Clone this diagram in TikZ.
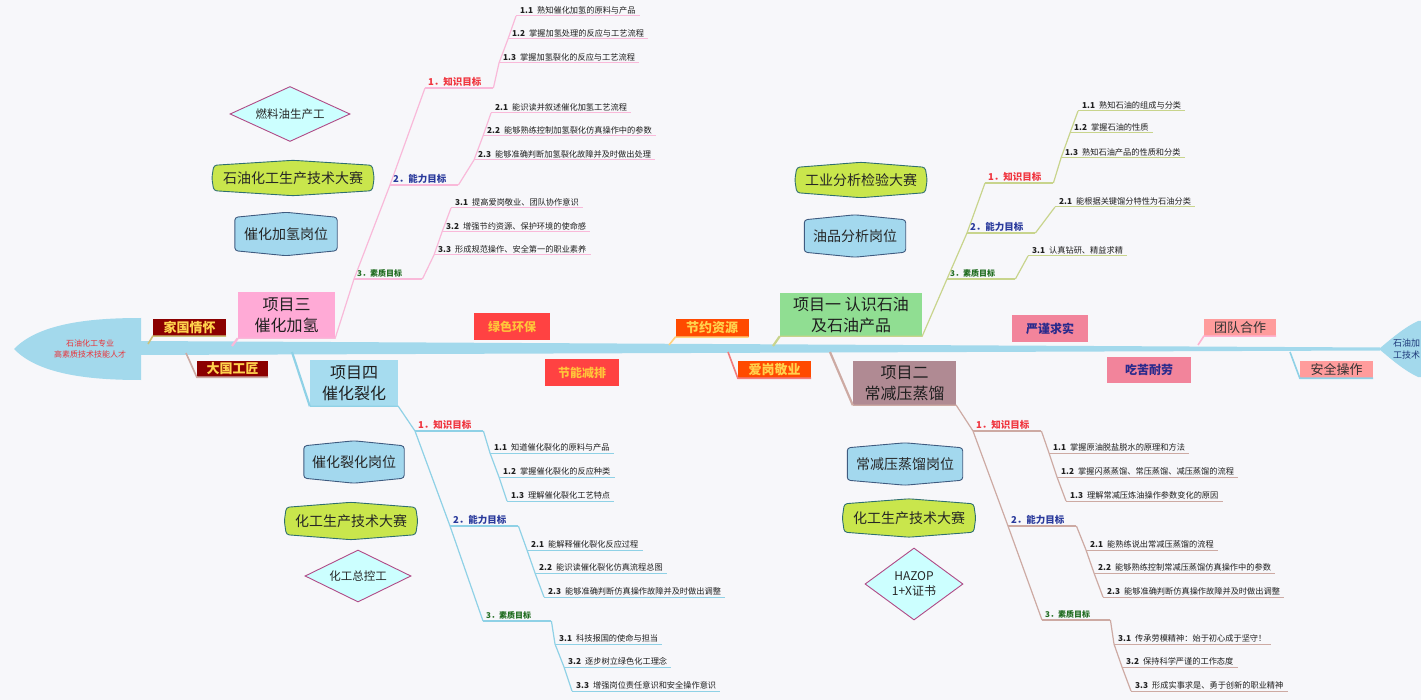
\documentclass[tikz,border=0pt]{standalone}
\usepackage{fontspec}
\setmainfont{Noto Sans CJK SC}
\usepackage{tikz}
\usetikzlibrary{shapes.geometric, backgrounds}
\definecolor{bgc}{HTML}{F7F7FA}
\definecolor{spinec}{HTML}{A3D9EC}
\definecolor{pinkln}{HTML}{F9B9D9}
\definecolor{pinkbox}{HTML}{FFAAD6}
\definecolor{blueln}{HTML}{8FD1E6}
\definecolor{bluebox}{HTML}{A6DCEF}
\definecolor{oliveln}{HTML}{C8D48C}
\definecolor{greenbox}{HTML}{90DE92}
\definecolor{brownln}{HTML}{CDAAA3}
\definecolor{mauvebox}{HTML}{B08A93}
\definecolor{goalred}{HTML}{F0353F}
\definecolor{goalblue}{HTML}{2A3A9C}
\definecolor{goalgreen}{HTML}{1E6B1E}
\definecolor{darkred}{HTML}{8B0000}
\definecolor{goldtxt}{HTML}{FFD24D}
\definecolor{tagred}{HTML}{FF4242}
\definecolor{tagorange}{HTML}{FF4A00}
\definecolor{tagamber}{HTML}{FFC53A}
\definecolor{tagpink}{HTML}{F2849B}
\definecolor{tagnavy}{HTML}{2A2A8C}
\definecolor{tagsalmon}{HTML}{FF9C9C}
\definecolor{olivetag}{HTML}{CDC27A}
\definecolor{yellowtag}{HTML}{FFD27E}
\definecolor{redtag}{HTML}{F27C7C}
\definecolor{pinktag}{HTML}{FFB3D1}
\definecolor{cyanfill}{HTML}{CCFFFF}
\definecolor{diaedge}{HTML}{B04A86}
\definecolor{limefill}{HTML}{C9E64C}
\definecolor{limeedge}{HTML}{2F6F70}
\definecolor{postfill}{HTML}{A3D8EE}
\definecolor{postedge}{HTML}{3F5B80}
\definecolor{headred}{HTML}{E8333A}
\definecolor{headblue}{HTML}{1E3A7A}
\tikzset{
    projbox/.style={align=center, inner sep=0pt, text=black!88, font=\fontsize{16}{21}\selectfont},
    tagbox/.style={inner sep=0pt, minimum width=73pt, minimum height=17pt, font=\bfseries\fontsize{13}{14}\selectfont},
    goallabel/.style={anchor=south west, inner xsep=3pt, inner ysep=1.5pt, text width=62pt,
        font=\bfseries\fontsize{9.5}{11}\selectfont,
        append after command={(\tikzlastnode.south west) edge[draw=#1, line width=1.2pt] (\tikzlastnode.south east)}},
    subitem/.style={anchor=south west, inner xsep=4pt, inner ysep=1.5pt, text=black!88,
        font=\fontsize{8.2}{10}\selectfont,
        append after command={(\tikzlastnode.south west) edge[draw=#1, line width=1pt] (\tikzlastnode.south east)}},
    postnode/.style={inner sep=0pt, minimum height=42pt, text=black!85, font=\fontsize{14}{16}\selectfont},
    contest/.style={inner sep=0pt, minimum height=36pt, text=black!85, font=\fontsize{14}{16}\selectfont},
    jobdia/.style={diamond, draw=diaedge, fill=cyanfill, line width=0.9pt, inner sep=0pt, align=center,
        text=black!85, font=\fontsize{11.5}{14}\selectfont},
    trunk/.style={line width=1.2pt},
    stem/.style={line width=2.2pt},
    tagstem/.style={line width=1.6pt},
}
\newcommand\postshape[4]{%
    \draw[fill=#2, draw=#3, line width=0.9pt, rounded corners=3pt]
        ([yshift=-5pt]#1.north west) -- (#1.north) -- ([yshift=-5pt]#1.north east) -- ([xshift=#4]#1.east)
        -- ([yshift=5pt]#1.south east) -- (#1.south) -- ([yshift=5pt]#1.south west) -- ([xshift=-#4]#1.west) -- cycle;}

\begin{document}
\begin{tikzpicture}[x=1pt, y=-1pt]
\useasboundingbox (0,0) rectangle (1421,700);
\begin{scope}[on background layer]
\fill[bgc] (0,0) rectangle (1421,700);
\end{scope}

\fill[spinec] (140,341) -- (1380,347.5) -- (1380,350.5) -- (140,355) -- cycle;
\fill[spinec] (14,349) .. controls (40,322) and (95,318) .. (141,318) -- (141,380) .. controls (95,380) and (40,376) .. (14,349) -- cycle;
\fill[spinec] (1379,349) .. controls (1392,338) and (1405,327) .. (1418,321) -- (1430,321) -- (1430,377) -- (1418,377) .. controls (1405,371) and (1392,360) .. (1379,349) -- cycle;
\node[font=\fontsize{8}{10.5}\selectfont, text=headred, align=center] (root) at (90,349) {石油化工专业\\高素质技术技能人才};
\node[font=\fontsize{9}{12}\selectfont, text=headblue, align=left, anchor=west, inner sep=0pt] (aim) at (1393,349) {石油加\\工技术};

\node[tagbox, fill=darkred, text=goldtxt] (tag1) at (189.5,327.5) {家国情怀};
\node[tagbox, fill=darkred, text=goldtxt, minimum width=71pt, minimum height=16pt] (tag2) at (232.5,369) {大国工匠};
\node[tagbox, fill=tagred, text=tagamber, minimum width=76pt, minimum height=27pt, font=\bfseries\fontsize{12}{14}\selectfont] (tag3) at (512,326.5) {绿色环保};
\node[tagbox, fill=tagred, text=tagamber, minimum width=74pt, minimum height=27pt, font=\bfseries\fontsize{12}{14}\selectfont] (tag4) at (582,372.5) {节能减排};
\node[tagbox, fill=tagorange, text=goldtxt, minimum height=18pt] (tag5) at (712,328) {节约资源};
\node[tagbox, fill=tagorange, text=goldtxt] (tag6) at (774.5,369.5) {爱岗敬业};
\node[tagbox, fill=tagpink, text=tagnavy, minimum width=76pt, minimum height=27pt, font=\bfseries\fontsize{12}{14}\selectfont] (tag7) at (1050,328.5) {严谨求实};
\node[tagbox, fill=tagpink, text=tagnavy, minimum width=84pt, minimum height=26pt, font=\bfseries\fontsize{12}{14}\selectfont] (tag8) at (1149,370) {吃苦耐劳};
\node[tagbox, fill=tagsalmon, text=black!80, minimum width=72pt, font=\fontsize{13}{14}\selectfont] (tag9) at (1240,327.5) {团队合作};
\node[tagbox, fill=tagsalmon, text=black!80, font=\fontsize{13}{14}\selectfont] (tag10) at (1336.5,369.5) {安全操作};

\coordinate (st1) at (148,344);
\coordinate (st2) at (186,353);
\coordinate (st5) at (669,345);
\coordinate (st6) at (728,352);
\coordinate (st9) at (1198,345);
\coordinate (st10) at (1290,352);
\draw[tagstem, olivetag] (st1) -- (tag1.south west) -- (tag1.south east);
\draw[tagstem, brownln] (st2) -- (tag2.south west) -- (tag2.south east);
\draw[tagstem, yellowtag] (st5) -- (tag5.south west) -- (tag5.south east);
\draw[tagstem, redtag] (st6) -- (tag6.south west) -- (tag6.south east);
\draw[tagstem, pinktag] (st9) -- (tag9.south west) -- (tag9.south east);
\draw[tagstem, blueln] (st10) -- (tag10.south west) -- (tag10.south east);

\node[projbox, fill=pinkbox, minimum width=97pt, minimum height=46pt] (proj3) at (286.5,315) {项目三\\催化加氢};
\node[goallabel=pinkln, text=goalred] (g31) at (425,88) {1．知识目标};
\node[goallabel=pinkln, text=goalblue] (g32) at (390,185) {2．能力目标};
\node[goallabel=pinkln, text=goalgreen, font=\bfseries\fontsize{8}{10}\selectfont] (g33) at (354,279) {3．素质目标};
\node[subitem=pinkln] (i311) at (516,16) {\textbf{1.1}\enspace 熟知催化加氢的原料与产品};
\node[subitem=pinkln] (i312) at (508,39) {\textbf{1.2}\enspace 掌握加氢处理的反应与工艺流程};
\node[subitem=pinkln] (i313) at (499,63) {\textbf{1.3}\enspace 掌握加氢裂化的反应与工艺流程};
\node[subitem=pinkln] (i321) at (491,113) {\textbf{2.1}\enspace 能识读并叙述催化加氢工艺流程};
\node[subitem=pinkln] (i322) at (483,136) {\textbf{2.2}\enspace 能够熟练控制加氢裂化仿真操作中的参数};
\node[subitem=pinkln] (i323) at (474,160) {\textbf{2.3}\enspace 能够准确判断加氢裂化故障并及时做出处理};
\node[subitem=pinkln] (i331) at (451,208) {\textbf{3.1}\enspace 提高爱岗敬业、团队协作意识};
\node[subitem=pinkln] (i332) at (442,232) {\textbf{3.2}\enspace 增强节约资源、保护环境的使命感};
\node[subitem=pinkln] (i333) at (434,255) {\textbf{3.3}\enspace 形成规范操作、安全第一的职业素养};
\coordinate (sp3) at (232,346);
\draw[stem, pinkln] (sp3) -- (proj3.south west);
\draw[trunk, pinkln] (proj3.south west) -- (proj3.south east) -- (g33.south west) -- (g32.south west) -- (g31.south west);
\draw[trunk, pinkln] (g31.south east) -- (i313.south west) -- (i312.south west) -- (i311.south west);
\draw[trunk, pinkln] (g32.south east) -- (i323.south west) -- (i322.south west) -- (i321.south west);
\draw[trunk, pinkln] (g33.south east) -- (i333.south west) -- (i332.south west) -- (i331.south west);

\node[projbox, fill=bluebox, minimum width=88pt, minimum height=46pt] (proj4) at (354,383) {项目四\\催化裂化};
\node[goallabel=blueln, text=goalred] (g41) at (415,431) {1．知识目标};
\node[goallabel=blueln, text=goalblue] (g42) at (450,526) {2．能力目标};
\node[goallabel=blueln, text=goalgreen, font=\bfseries\fontsize{8}{10}\selectfont] (g43) at (483,621) {3．素质目标};
\node[subitem=blueln] (i411) at (490,453) {\textbf{1.1}\enspace 知道催化裂化的原料与产品};
\node[subitem=blueln] (i412) at (499,477) {\textbf{1.2}\enspace 掌握催化裂化的反应种类};
\node[subitem=blueln] (i413) at (507,501) {\textbf{1.3}\enspace 理解催化裂化工艺特点};
\node[subitem=blueln] (i421) at (527,550) {\textbf{2.1}\enspace 能解释催化裂化反应过程};
\node[subitem=blueln] (i422) at (535,573) {\textbf{2.2}\enspace 能识读催化裂化仿真流程总图};
\node[subitem=blueln] (i423) at (544,597) {\textbf{2.3}\enspace 能够准确判断仿真操作故障并及时做出调整};
\node[subitem=blueln] (i431) at (555,644) {\textbf{3.1}\enspace 科技报国的使命与担当};
\node[subitem=blueln] (i432) at (564,667) {\textbf{3.2}\enspace 逐步树立绿色化工理念};
\node[subitem=blueln] (i433) at (572,691) {\textbf{3.3}\enspace 增强岗位责任意识和安全操作意识};
\coordinate (sp4) at (292,352);
\draw[stem, blueln] (sp4) -- (proj4.south west);
\draw[trunk, blueln] (proj4.south west) -- (proj4.south east) -- (g41.south west) -- (g42.south west) -- (g43.south west);
\draw[trunk, blueln] (g41.south east) -- (i411.south west) -- (i412.south west) -- (i413.south west);
\draw[trunk, blueln] (g42.south east) -- (i421.south west) -- (i422.south west) -- (i423.south west);
\draw[trunk, blueln] (g43.south east) -- (i431.south west) -- (i432.south west) -- (i433.south west);

\node[projbox, fill=greenbox, minimum width=142pt, minimum height=43pt] (proj1) at (851,314.5) {项目一 认识石油\\及石油产品};
\node[goallabel=oliveln, text=goalred] (g11) at (985,183) {1．知识目标};
\node[goallabel=oliveln, text=goalblue] (g12) at (967,233) {2．能力目标};
\node[goallabel=oliveln, text=goalgreen, font=\bfseries\fontsize{8}{10}\selectfont] (g13) at (947,279) {3．素质目标};
\node[subitem=oliveln] (i111) at (1078,111) {\textbf{1.1}\enspace 熟知石油的组成与分类};
\node[subitem=oliveln] (i112) at (1070,133) {\textbf{1.2}\enspace 掌握石油的性质};
\node[subitem=oliveln] (i113) at (1061,158) {\textbf{1.3}\enspace 熟知石油产品的性质和分类};
\node[subitem=oliveln] (i121) at (1055,207) {\textbf{2.1}\enspace 能根据关键馏分特性为石油分类};
\node[subitem=oliveln] (i131) at (1028,256) {\textbf{3.1}\enspace 认真钻研、精益求精};
\coordinate (sp1) at (773,346);
\draw[stem, oliveln] (sp1) -- (proj1.south west);
\draw[trunk, oliveln] (proj1.south west) -- (proj1.south east) -- (g13.south west) -- (g12.south west) -- (g11.south west);
\draw[trunk, oliveln] (g11.south east) -- (i113.south west) -- (i112.south west) -- (i111.south west);
\draw[trunk, oliveln] (g12.south east) -- (i121.south west);
\draw[trunk, oliveln] (g13.south east) -- (i131.south west);

\node[projbox, fill=mauvebox, minimum width=103pt, minimum height=44pt] (proj2) at (904.5,383) {项目二\\常减压蒸馏};
\node[goallabel=brownln, text=goalred] (g21) at (973,431) {1．知识目标};
\node[goallabel=brownln, text=goalblue] (g22) at (1008,526) {2．能力目标};
\node[goallabel=brownln, text=goalgreen, font=\bfseries\fontsize{8}{10}\selectfont] (g23) at (1042,620) {3．素质目标};
\node[subitem=brownln] (i211) at (1049,453) {\textbf{1.1}\enspace 掌握原油脱盐脱水的原理和方法};
\node[subitem=brownln] (i212) at (1057,477) {\textbf{1.2}\enspace 掌握闪蒸蒸馏、常压蒸馏、减压蒸馏的流程};
\node[subitem=brownln] (i213) at (1066,501) {\textbf{1.3}\enspace 理解常减压炼油操作参数变化的原因};
\node[subitem=brownln] (i221) at (1086,550) {\textbf{2.1}\enspace 能熟练说出常减压蒸馏的流程};
\node[subitem=brownln] (i222) at (1094,573) {\textbf{2.2}\enspace 能够熟练控制常减压蒸馏仿真操作中的参数};
\node[subitem=brownln] (i223) at (1103,597) {\textbf{2.3}\enspace 能够准确判断仿真操作故障并及时做出调整};
\node[subitem=brownln] (i231) at (1114,644) {\textbf{3.1}\enspace 传承劳模精神：始于初心成于坚守！};
\node[subitem=brownln] (i232) at (1122,667) {\textbf{3.2}\enspace 保持科学严谨的工作态度};
\node[subitem=brownln] (i233) at (1131,691) {\textbf{3.3}\enspace 形成实事求是、勇于创新的职业精神};
\coordinate (sp2) at (830,352);
\draw[stem, brownln] (sp2) -- (proj2.south west);
\draw[trunk, brownln] (proj2.south west) -- (proj2.south east) -- (g21.south west) -- (g22.south west) -- (g23.south west);
\draw[trunk, brownln] (g21.south east) -- (i211.south west) -- (i212.south west) -- (i213.south west);
\draw[trunk, brownln] (g22.south east) -- (i221.south west) -- (i222.south west) -- (i223.south west);
\draw[trunk, brownln] (g23.south east) -- (i231.south west) -- (i232.south west) -- (i233.south west);

\node[jobdia, minimum width=120pt, minimum height=55pt, aspect=2.2] (job3) at (290,114) {燃料油生产工};
\node[contest, minimum width=158pt, minimum height=35pt] (cup3) at (293,178) {石油化工生产技术大赛};
\node[postnode, minimum width=102pt, minimum height=43pt] (post3) at (286,234) {催化加氢岗位};
\node[postnode, minimum width=100pt] (post4) at (354,462) {催化裂化岗位};
\node[contest, minimum width=129pt, minimum height=37pt] (cup4) at (351,521) {化工生产技术大赛};
\node[jobdia, minimum width=106pt, minimum height=52pt, aspect=2.04] (job4) at (358,576) {化工总控工};
\node[contest, minimum width=128pt, minimum height=35pt] (cup1) at (861,180) {工业分析检验大赛};
\node[postnode, minimum width=101pt] (post1) at (855,236) {油品分析岗位};
\node[postnode, minimum width=115pt] (post2) at (905,464) {常减压蒸馏岗位};
\node[contest, minimum width=129pt, minimum height=38pt] (cup2) at (909,518) {化工生产技术大赛};
\node[jobdia, minimum width=98pt, minimum height=72pt, aspect=1.36, font=\fontsize{12}{15}\selectfont] (job2) at (914,584) {HAZOP\\1+X证书};

\begin{scope}[on background layer]
\postshape{post3}{postfill}{postedge}{0pt}
\postshape{post4}{postfill}{postedge}{0pt}
\postshape{post1}{postfill}{postedge}{0pt}
\postshape{post2}{postfill}{postedge}{0pt}
\postshape{cup3}{limefill}{limeedge}{2pt}
\postshape{cup4}{limefill}{limeedge}{2pt}
\postshape{cup1}{limefill}{limeedge}{2pt}
\postshape{cup2}{limefill}{limeedge}{2pt}
\end{scope}
\end{tikzpicture}
\end{document}
